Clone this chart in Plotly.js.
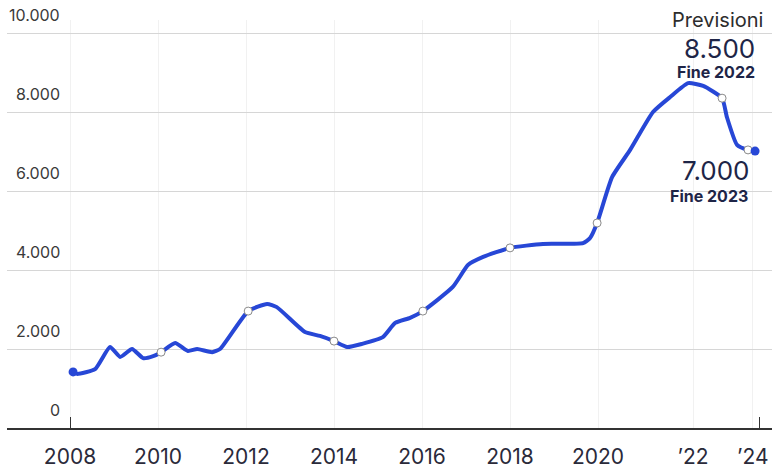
<!DOCTYPE html>
<html>
<head>
<meta charset="utf-8">
<script src="https://cdn.plot.ly/plotly-3.0.1.min.js"></script>
<style>
html,body{margin:0;padding:0;background:#fff;}
#chart{width:772px;height:474px;}
</style>
</head>
<body>
<div id="chart"></div>
<script>
// Data (x in fractional years as laid out on the chart)
const years = [2008.07, 2008.16, 2008.57, 2008.91, 2009.14, 2009.41, 2009.66, 2009.89, 2010.07, 2010.39,
  2010.68, 2010.89, 2011.23, 2011.41, 2012.05, 2012.48, 2012.70, 2013.34, 2013.68, 2014.00,
  2014.30, 2014.64, 2015.11, 2015.39, 2015.73, 2016.02, 2016.70, 2017.05, 2017.39, 2018.00,
  2018.75, 2019.66, 2019.82, 2019.98, 2020.32, 2020.73, 2021.25, 2021.64, 2022.05, 2022.39,
  2022.82, 2022.93, 2023.16, 2023.41, 2023.57];
const values = [1420, 1370, 1490, 2050, 1800, 2000, 1770, 1820, 1920, 2150,
  1950, 2000, 1920, 2000, 2960, 3140, 3060, 2430, 2330, 2200,
  2050, 2130, 2300, 2660, 2790, 2960, 3570, 4130, 4330, 4560,
  4660, 4680, 4810, 5190, 6350, 7040, 8000, 8380, 8730, 8660,
  8350, 7870, 7170, 7040, 7010];
// indices of the points marked with open circles, and filled end dots
const openMarkIdx = [8, 14, 19, 25, 29, 33, 40, 43];
const endDotIdx = [0, 44];

const xTickVals = [2008, 2010, 2012, 2014, 2016, 2018, 2020, 2022.16, 2023.52];
const xTickText = ['2008', '2010', '2012', '2014', '2016', '2018', '2020', '’22', '’24'];
const xMarkTicks = [2008, 2023.66];
const yTickVals = [0, 2000, 4000, 6000, 8000, 10000];
const yTickText = ['0', '2.000', '4.000', '6.000', '8.000', '10.000'];

const blue = '#2747d6';
const pick = (arr, idx) => idx.map(i => arr[i]);

const traces = [
  {x: years, y: values, mode: 'lines', type: 'scatter',
   line: {color: blue, width: 4, shape: 'spline', smoothing: 0.5}, hoverinfo: 'skip'},
  {x: pick(years, openMarkIdx), y: pick(values, openMarkIdx), mode: 'markers', type: 'scatter',
   marker: {size: 8, color: '#ffffff', line: {color: '#8a8a8a', width: 1}}, hoverinfo: 'skip'},
  {x: pick(years, endDotIdx), y: pick(values, endDotIdx), mode: 'markers', type: 'scatter',
   marker: {size: 9, color: blue}, hoverinfo: 'skip'},
  {x: xMarkTicks, y: [0, 0], xaxis: 'x2', mode: 'markers', marker: {opacity: 0}, hoverinfo: 'skip'}
];

const font = 'Inter, Lato, sans-serif';
const navy = '#1e2547';

const annotations = yTickVals.map((v, i) => ({
  xref: 'paper', yref: 'y', x: 0.0719, y: v, yshift: 18, xanchor: 'right', yanchor: 'middle',
  text: yTickText[i], showarrow: false, font: {family: font, size: 16, color: '#3a3a3a'}
}));

annotations.push(
  {xref: 'paper', yref: 'paper', x: 0.991, y: 1.0, xanchor: 'right', yanchor: 'middle',
   text: 'Previsioni', showarrow: false, font: {family: font, size: 20, color: '#2d2d2d'}},
  {xref: 'paper', yref: 'paper', x: 0.932, y: 0.931, xanchor: 'center', yanchor: 'middle',
   text: '8.500', showarrow: false, font: {family: font, size: 26, color: navy}},
  {xref: 'paper', yref: 'paper', x: 0.927, y: 0.873, xanchor: 'center', yanchor: 'middle',
   text: '<b>Fine 2022</b>', showarrow: false, font: {family: font, size: 16, color: navy}},
  {xref: 'paper', yref: 'paper', x: 0.927, y: 0.632, xanchor: 'center', yanchor: 'middle',
   text: '7.000', showarrow: false, font: {family: font, size: 26, color: navy}},
  {xref: 'paper', yref: 'paper', x: 0.918, y: 0.569, xanchor: 'center', yanchor: 'middle',
   text: '<b>Fine 2023</b>', showarrow: false, font: {family: font, size: 16, color: navy}}
);

const xRange = [2008 + (7 - 70) / 44, 2008 + (772 - 70) / 44];

const layout = {
  width: 772, height: 474,
  margin: {l: 7, r: 0, t: 20, b: 46},
  paper_bgcolor: '#ffffff', plot_bgcolor: '#ffffff',
  showlegend: false,
  xaxis: {range: xRange, tickmode: 'array', tickvals: xTickVals, ticktext: xTickText,
    showgrid: true, gridcolor: '#f1f1f1', gridwidth: 1,
    showline: true, linecolor: '#333333', linewidth: 1.5,
    ticks: '', ticklabelstandoff: 9, zeroline: false,
    tickfont: {family: font, size: 21, color: '#2a2a3a'}, fixedrange: true},
  xaxis2: {overlaying: 'x', matches: 'x', range: xRange, tickmode: 'array', tickvals: xMarkTicks,
    ticks: 'inside', ticklen: 11, tickcolor: '#333333', tickwidth: 1, showticklabels: false,
    showgrid: false, zeroline: false, showline: false, anchor: 'y', side: 'bottom'},
  yaxis: {range: [0, 10329], tickmode: 'array', tickvals: [2000, 4000, 6000, 8000, 10000],
    showticklabels: false, showgrid: true, gridcolor: '#d6d6d6', gridwidth: 1,
    zeroline: false, showline: false, ticks: '', fixedrange: true},
  annotations: annotations
};

Plotly.newPlot('chart', traces, layout, {displayModeBar: false, staticPlot: true});
</script>
</body>
</html>
